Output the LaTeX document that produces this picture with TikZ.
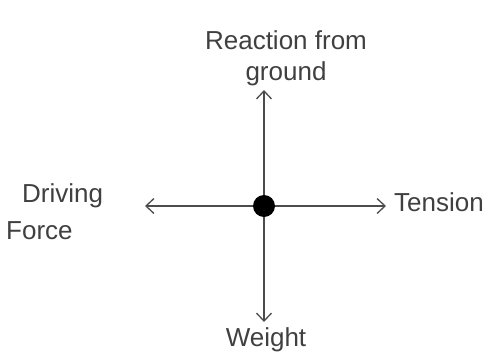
\documentclass[tikz,border=0pt]{standalone}
\usepackage{fontspec}
\setmainfont{Liberation Sans}
\usetikzlibrary{arrows.meta,positioning}
\begin{document}
\begin{tikzpicture}[x=1pt,y=-1pt,>={Straight Barb[length=8pt,width=15pt]},force/.style={draw=black!70,line width=1.3pt,->},lbl/.style={font=\fontsize{26}{31}\selectfont,text=black!75,inner sep=0pt}]
\useasboundingbox (0,0) rectangle (496,362);
\node[lbl,align=center] (reaction) at (286,58) {Reaction from\\ground};
\node[circle,fill=black,minimum size=22pt,inner sep=0pt] (body) at (264,206) {};
\node[lbl,align=left,anchor=west] (driving) at (6,212) {\hspace*{16pt}Driving\\[6pt]Force};
\node[lbl,anchor=west] (tension) at (394,202) {Tension};
\node[lbl] (weight) at (266,340) {Weight};
\coordinate (uptip) at (264,90);
\coordinate (lefttip) at (145,206);
\coordinate (righttip) at (386,206);
\coordinate (downtip) at (264,322);
\foreach \t in {uptip,lefttip,righttip,downtip}{\draw[force] (body)--(\t);}
\end{tikzpicture}
\end{document}
